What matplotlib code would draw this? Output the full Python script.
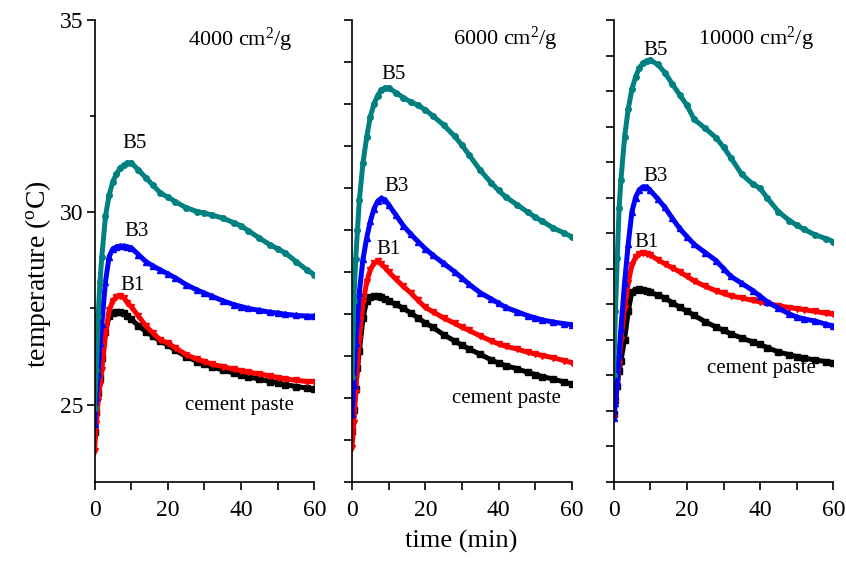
import numpy as np
import matplotlib
matplotlib.use('Agg')
import matplotlib.pyplot as plt
from matplotlib.ticker import MultipleLocator, FixedLocator

plt.rcParams['font.family'] = ['Liberation Serif', 'DejaVu Serif']
plt.rcParams['mathtext.fontset'] = 'stix'

# =============================================================================
# Data (time in min, temperature in degC)
# =============================================================================
time = [0, 0.5, 1, 1.5, 2, 3, 4, 5, 6, 7, 8, 9, 10, 12, 14, 16, 18, 20, 22,
        25, 28, 30, 32, 35, 38, 40, 42, 45, 48, 50, 52, 55, 58, 60]

# 4000 cm2/g
cp_4000 = [24.3, 24.8, 25.3, 25.7, 26.2, 26.9, 27.3, 27.38, 27.42, 27.42, 27.38, 27.3,
           27.22, 27.05, 26.9, 26.78, 26.65, 26.55, 26.42, 26.25, 26.12, 26.05, 25.98,
           25.9, 25.82, 25.78, 25.73, 25.66, 25.6, 25.56, 25.52, 25.47, 25.43, 25.4]
b1_4000 = [23.8, 24.5, 25.1, 25.5, 25.9, 26.8, 27.45, 27.7, 27.8, 27.82, 27.78, 27.65,
           27.55, 27.3, 27.05, 26.85, 26.68, 26.6, 26.48, 26.3, 26.18, 26.12, 26.05,
           25.99, 25.92, 25.88, 25.84, 25.8, 25.74, 25.7, 25.67, 25.63, 25.6, 25.6]
b3_4000 = [24.5, 25.2, 25.8, 26.6, 27.1, 28.2, 28.85, 29.05, 29.1, 29.12, 29.12, 29.1,
           29.08, 28.9, 28.72, 28.6, 28.5, 28.4, 28.3, 28.12, 27.98, 27.9, 27.82, 27.7,
           27.6, 27.55, 27.5, 27.45, 27.4, 27.38, 27.35, 27.32, 27.3, 27.3]
b5_4000 = [24.9, 25.9, 27.3, 28.2, 28.85, 29.9, 30.45, 30.8, 31.0, 31.15, 31.22, 31.27,
           31.29, 31.1, 30.9, 30.7, 30.5, 30.4, 30.28, 30.12, 30.02, 29.98, 29.93, 29.85,
           29.73, 29.65, 29.52, 29.33, 29.15, 29.05, 28.95, 28.72, 28.5, 28.38]

# 6000 cm2/g
cp_6000 = [25.2, 25.7, 26.2, 26.7, 27.1, 27.9, 28.3, 28.4, 28.42, 28.42, 28.4, 28.35,
           28.3, 28.22, 28.13, 28.02, 27.9, 27.78, 27.68, 27.5, 27.35, 27.25, 27.16,
           27.03, 26.9, 26.82, 26.76, 26.69, 26.6, 26.55, 26.5, 26.44, 26.37, 26.32]
b1_6000 = [24.8, 25.4, 26.1, 26.8, 27.4, 28.25, 28.75, 29.05, 29.2, 29.25, 29.18, 29.1,
           29.0, 28.82, 28.65, 28.5, 28.32, 28.15, 28.05, 27.9, 27.77, 27.68, 27.6,
           27.47, 27.35, 27.28, 27.22, 27.16, 27.08, 27.04, 27.0, 26.95, 26.88, 26.83]
b3_6000 = [25.6, 26.3, 27.3, 27.9, 28.5, 29.3, 29.8, 30.2, 30.5, 30.68, 30.75, 30.72,
           30.6, 30.35, 30.1, 29.9, 29.72, 29.55, 29.4, 29.2, 29.0, 28.85, 28.7, 28.5,
           28.35, 28.25, 28.15, 28.05, 27.95, 27.9, 27.85, 27.8, 27.76, 27.74]
b5_6000 = [26.5, 28.3, 29.3, 30.0, 30.7, 31.6, 32.2, 32.7, 33.0, 33.2, 33.33, 33.38,
           33.38, 33.27, 33.15, 33.05, 32.97, 32.86, 32.72, 32.5, 32.23, 32.02, 31.78,
           31.42, 31.12, 30.94, 30.78, 30.6, 30.42, 30.3, 30.2, 30.04, 29.92, 29.83]

# 10000 cm2/g
cp_10000 = [24.9, 25.3, 25.7, 26.1, 26.4, 27.0, 27.8, 28.35, 28.4, 28.41, 28.4, 28.37,
            28.33, 28.25, 28.17, 28.04, 27.91, 27.8, 27.68, 27.5, 27.35, 27.26, 27.16,
            27.04, 26.93, 26.86, 26.77, 26.65, 26.57, 26.52, 26.48, 26.42, 26.38, 26.35]
b1_10000 = [24.8, 25.2, 25.7, 26.3, 27.0, 27.9, 28.6, 29.1, 29.32, 29.42, 29.43, 29.42,
            29.38, 29.25, 29.13, 29.02, 28.91, 28.78, 28.65, 28.5, 28.37, 28.3, 28.23,
            28.17, 28.1, 28.06, 28.02, 27.95, 27.9, 27.87, 27.84, 27.79, 27.74, 27.71]
b3_10000 = [24.8, 25.2, 25.8, 26.6, 27.3, 28.6, 29.7, 30.6, 31.0, 31.22, 31.3, 31.3,
            31.2, 30.97, 30.72, 30.42, 30.13, 29.9, 29.68, 29.45, 29.22, 29.0, 28.78,
            28.58, 28.38, 28.22, 28.06, 27.88, 27.72, 27.63, 27.58, 27.52, 27.43, 27.38]
b5_10000 = [26.0, 27.8, 29.3, 30.7, 31.5, 32.7, 33.5, 34.05, 34.4, 34.65, 34.78, 34.85,
            34.87, 34.75, 34.52, 34.2, 33.9, 33.6, 33.2, 32.95, 32.68, 32.42, 32.12,
            31.65, 31.38, 31.26, 30.98, 30.6, 30.35, 30.22, 30.1, 29.95, 29.84, 29.76]

fineness = ['4000', '6000', '10000']

# =============================================================================
# Figure
# =============================================================================
fig = plt.figure(figsize=(8.46, 5.61), dpi=100)

left_pos = [94.5, 352.0, 613.6]
axes = [fig.add_axes([x / 846, 0.1417, 219.8 / 846, 0.8226]) for x in left_pos]

panels = [(cp_4000, b1_4000, b3_4000, b5_4000),
          (cp_6000, b1_6000, b3_6000, b5_6000),
          (cp_10000, b1_10000, b3_10000, b5_10000)]
colors  = ['black', '#ff0000', '#0000ff', '#008080']
markers = ['s', 'v', '^', 'o']

ylims = [(23, 35), (24, 35), (23, 36)]

# label positions in axes fraction: (B5, B3, B1, cement paste, title)
lab_pos = [
    [(0.184, 0.733), (0.191, 0.541), (0.173, 0.425), (0.412, 0.164), (0.425, 0.957)],
    [(0.187, 0.881), (0.202, 0.640), (0.164, 0.502), (0.454, 0.179), (0.460, 0.960)],
    [(0.191, 0.935), (0.191, 0.662), (0.150, 0.517), (0.424, 0.245), (0.384, 0.960)],
]

for i, ax in enumerate(axes):
    for vals, c, m in zip(panels[i], colors, markers):
        ax.plot(time, vals, color=c, lw=3.6, solid_capstyle='butt',
                marker=m, ms=4, mec=c, mfc=c)

    ax.set_xlim(0, 60)
    ax.set_ylim(*ylims[i])
    ax.spines['top'].set_visible(False)
    ax.spines['right'].set_visible(False)
    ax.spines['left'].set_linewidth(1.2)
    ax.spines['bottom'].set_linewidth(1.2)
    ax.patch.set_alpha(0)

    ax.xaxis.set_major_locator(MultipleLocator(20))
    ax.xaxis.set_minor_locator(MultipleLocator(10))
    ax.tick_params(axis='x', which='both', direction='out', length=6, width=1.2,
                   labelsize=17, pad=7)

    if i == 0:
        ax.yaxis.set_major_locator(FixedLocator([25, 30, 35]))
        ax.yaxis.set_minor_locator(FixedLocator([27.5, 32.5]))
        ax.tick_params(axis='y', which='major', direction='out', length=6,
                       width=1.2, labelsize=17, pad=2)
        ax.tick_params(axis='y', which='minor', direction='out', length=3.5,
                       width=1.2)
    else:
        ax.yaxis.set_major_locator(MultipleLocator(1))
        ax.tick_params(axis='y', which='major', direction='out', length=6,
                       width=1.2, labelleft=False)

    p = lab_pos[i]
    ax.text(*p[0], 'B5', transform=ax.transAxes, ha='center', va='center', fontsize=15)
    ax.text(*p[1], 'B3', transform=ax.transAxes, ha='center', va='center', fontsize=15)
    ax.text(*p[2], 'B1', transform=ax.transAxes, ha='center', va='center', fontsize=15)
    ax.text(*p[3], 'cement paste', transform=ax.transAxes, ha='left', va='center',
            fontsize=15)
    ax.text(*p[4], fineness[i] + r' cm$\mathregular{^2}$/g', transform=ax.transAxes,
            ha='left', va='center', fontsize=16)

fig.text(38 / 846, 1 - 274 / 561, r'temperature ($\mathregular{^o}$C)', rotation=90,
         ha='center', va='center', fontsize=20)
fig.text(461 / 846, 1 - 541 / 561, 'time (min)', ha='center', va='center', fontsize=19)

fig.savefig('out.png', dpi=100)
